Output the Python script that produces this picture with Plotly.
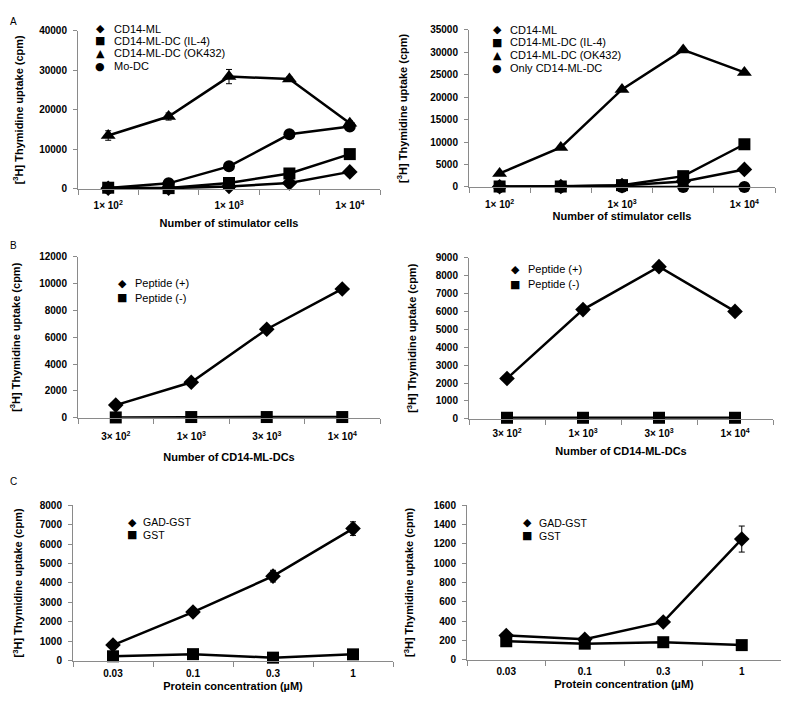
import plotly.graph_objects as go

# page is 789x706; the browser's default 8px body margin surrounds the figure
PAGE_W, PAGE_H, OFF = 789, 706, 8
W, H = PAGE_W - 2 * OFF, PAGE_H - 2 * OFF

# ---------------- data ----------------
A_cats = ["1e2", "3e2", "1e3", "3e3", "1e4"]
A_ticktext = ["1× 10<sup>2</sup>", "", "1× 10<sup>3</sup>", "", "1× 10<sup>4</sup>"]

AL_cd14ml = [150, 200, 600, 1500, 4300]
AL_il4 = [300, 200, 1500, 3900, 8800]
AL_ok432 = [13500, 18300, 28400, 27800, 16600]
AL_ok432_err = [1200, 900, 1800, 500, 600]
AL_modc = [200, 1400, 5700, 13800, 15800]

AR_cd14ml = [50, 100, 300, 1200, 3900]
AR_il4 = [100, 100, 400, 2400, 9500]
AR_ok432 = [3000, 8800, 21700, 30500, 25500]
AR_only = [0, 0, 0, 0, 0]

B_cats = ["3e2", "1e3", "3e3", "1e4"]
B_ticktext = ["3× 10<sup>2</sup>", "1× 10<sup>3</sup>", "3× 10<sup>3</sup>", "1× 10<sup>4</sup>"]
BL_pos = [950, 2650, 6600, 9600]
BL_neg = [30, 60, 60, 60]
BR_pos = [2250, 6100, 8500, 6000]
BR_neg = [60, 60, 60, 60]

C_cats = ["0.03", "0.1", "0.3", "1"]
C_ticktext = ["0.03", "0.1", "0.3", "1"]
CL_gad = [800, 2500, 4350, 6800]
CL_gad_err = [100, 150, 300, 350]
CL_gst = [220, 330, 150, 320]
CR_gad = [250, 210, 390, 1250]
CR_gad_err = [20, 20, 30, 135]
CR_gst = [190, 165, 180, 150]

# ---------------- style ----------------
FONT = "Arial, Liberation Sans, sans-serif"
AXC = "#8a8a8a"
YTITLE = "[<sup>3</sup>H] Thymidine uptake (cpm)"
SYM = {"diamond": "diamond", "square": "square", "triangle": "triangle-up", "circle": "circle"}
GLYPH = {"diamond": "◆", "square": "■", "triangle": "▲", "circle": "●"}
MSIZE = {"diamond": 12, "square": 12, "triangle": 13, "circle": 12}


def fx(x):
    return min(max((x - OFF) / W, 0.0), 1.0)


def fy(y):
    return min(max(1 - (y - OFF) / H, 0.0), 1.0)


def px(x0, x1):
    return [fx(x0), fx(x1)]


def py(ytop, ybot):
    return [fy(ybot), fy(ytop)]


fig = go.Figure()

panels = [
    # suffix, xdom, ydom, cats, ticktext, ymax, dtick, xtitle, sym x, text x, row ys,
    # x-label standoff, x-title standoff, y-title standoff, legend font
    ("", (78, 380), (25, 186), A_cats, A_ticktext, 40000, 10000, "Number of stimulator cells",
     100, 112, [23, 35, 48, 61], 7, 9, 13, 11),
    ("2", (469, 775), (24, 184), A_cats, A_ticktext, 35000, 5000, "Number of stimulator cells",
     497, 508, [24, 37, 50, 63], 8, 2, 20, 11),
    ("3", (78, 380), (255, 419), B_cats, B_ticktext, 12000, 2000, "Number of CD14-ML-DCs",
     122, 133, [282, 297], 9, 12, 17, 11),
    ("4", (469, 773), (256, 420), B_cats, B_ticktext, 9000, 1000, "Number of CD14-ML-DCs",
     515, 526, [268, 283], 5, 9, 16, 11),
    ("5", (73, 393), (508, 666), C_cats, C_ticktext, 8000, 1000, "Protein concentration (µM)",
     132, 141, [525, 538], 3, 4, 14, 10.5),
    ("6", (467, 781), (508, 665), C_cats, C_ticktext, 1600, 200, "Protein concentration (µM)",
     527, 537, [526, 539], 2, 4, 17, 10.5),
]

series = {
    "": [("CD14-ML", AL_cd14ml, None, "diamond"),
         ("CD14-ML-DC (IL-4)", AL_il4, None, "square"),
         ("CD14-ML-DC (OK432)", AL_ok432, AL_ok432_err, "triangle"),
         ("Mo-DC", AL_modc, None, "circle")],
    "2": [("CD14-ML", AR_cd14ml, None, "diamond"),
          ("CD14-ML-DC (IL-4)", AR_il4, None, "square"),
          ("CD14-ML-DC (OK432)", AR_ok432, None, "triangle"),
          ("Only CD14-ML-DC", AR_only, None, "circle")],
    "3": [("Peptide (+)", BL_pos, None, "diamond"),
          ("Peptide (-)", BL_neg, None, "square")],
    "4": [("Peptide (+)", BR_pos, None, "diamond"),
          ("Peptide (-)", BR_neg, None, "square")],
    "5": [("GAD-GST", CL_gad, CL_gad_err, "diamond"),
          ("GST", CL_gst, None, "square")],
    "6": [("GAD-GST", CR_gad, CR_gad_err, "diamond"),
          ("GST", CR_gst, None, "square")],
}

layout = dict(
    width=W, height=H, margin=dict(l=0, r=0, t=0, b=0),
    paper_bgcolor="white", plot_bgcolor="white",
    font=dict(family=FONT, color="black", size=10),
    showlegend=False,
)

annotations = []

for (suf, xd, yd, cats, ttext, ymax, dtick, xtitle, symx, textx, rows,
     lstand, tstand, ystand, lfont) in panels:
    n = len(cats)
    idx = list(range(n))
    xa = "x" + suf
    ya = "y" + suf
    for (name, vals, err, sym), ry in zip(series[suf], rows):
        tr = dict(
            x=idx, y=vals, xaxis=xa, yaxis=ya, mode="lines+markers", name=name,
            line=dict(color="black", width=2.5),
            marker=dict(symbol=SYM[sym], size=MSIZE[sym], color="black"),
            cliponaxis=False,
        )
        if err is not None:
            tr["error_y"] = dict(type="data", array=err, visible=True,
                                 color="black", thickness=1, width=3)
        fig.add_trace(go.Scatter(**tr))
        # legend key (marker glyph + label)
        annotations.append(dict(
            text=GLYPH[sym], x=fx(symx), y=fy(ry), xref="paper", yref="paper",
            showarrow=False, xanchor="center", yanchor="middle",
            font=dict(size=11, family="DejaVu Sans", color="black"),
        ))
        annotations.append(dict(
            text=name, x=fx(textx), y=fy(ry), xref="paper", yref="paper",
            showarrow=False, xanchor="left", yanchor="middle",
            font=dict(size=lfont, family=FONT, color="black"),
        ))
    layout["xaxis" + suf] = dict(
        domain=px(*xd), anchor=ya, range=[-0.5, n - 0.5],
        showline=True, linecolor=AXC, linewidth=1, showgrid=False, zeroline=False,
        tickmode="array", tickvals=idx, ticktext=ttext, ticks="",
        ticklabelstandoff=lstand,
        tickfont=dict(size=10, weight="bold"),
        minor=dict(tickmode="array", tickvals=[i - 0.5 for i in range(n + 1)],
                   ticks="outside", ticklen=5, tickcolor=AXC, showgrid=False),
        title=dict(text=xtitle, font=dict(size=11, weight="bold"), standoff=tstand),
    )
    layout["yaxis" + suf] = dict(
        domain=py(*yd), anchor=xa, range=[0, ymax],
        showline=True, linecolor=AXC, linewidth=1, showgrid=False, zeroline=False,
        tickmode="linear", tick0=0, dtick=dtick, tickformat="d",
        ticks="outside", ticklen=4, tickcolor=AXC,
        ticklabelstandoff=4,
        tickfont=dict(size=10, weight="bold"),
        title=dict(text=YTITLE, font=dict(size=11, weight="bold"), standoff=ystand),
    )

# panel letters (top-left corner of each block)
for letter, ly in {"A": 8, "B": 236, "C": 476}.items():
    annotations.append(dict(text=letter, x=0, y=fy(ly), xref="paper", yref="paper",
                            showarrow=False, font=dict(size=10, family=FONT),
                            xanchor="left", yanchor="top"))

layout["annotations"] = annotations
fig.update_layout(**layout)

fig.write_html("out.html")
